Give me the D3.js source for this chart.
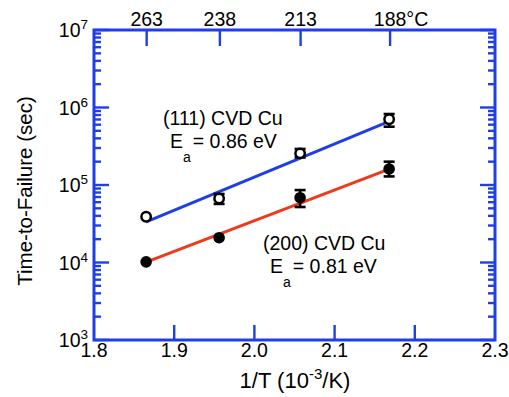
<!DOCTYPE html>
<html><head><meta charset="utf-8">
<script src="https://cdn.jsdelivr.net/npm/d3@7"></script>
<style>
body{margin:0;background:#fff;}
text{font-family:"Liberation Sans",Arial,Helvetica,sans-serif;fill:#000;}
</style></head>
<body><svg id="c" width="509" height="397"></svg>
<script>
// ---- data ----
const invT = [1.865, 1.956, 2.057, 2.168];          // 1/T (10^-3/K)
const ttf111 = [3.9e4, 6.7e4, 2.56e5, 7.05e5];       // (111) CVD Cu, sec
const err111Lo = [3.9e4, 5.7e4, 2.26e5, 5.65e5];
const err111Hi = [3.9e4, 7.66e4, 2.92e5, 8.24e5];
const ttf200 = [1.02e4, 2.09e4, 6.86e4, 1.61e5];     // (200) CVD Cu, sec
const err200Lo = [1.02e4, 2.09e4, 5.2e4, 1.29e5];
const err200Hi = [1.02e4, 2.09e4, 8.6e4, 2.0e5];
const fitX = [1.865, 2.168];
const fit111 = [3.35e4, 6.6e5];
const fit200 = [1.01e4, 1.6e5];
const xTicks = [1.8, 1.9, 2.0, 2.1, 2.2, 2.3];
const yExps = [3, 4, 5, 6, 7];
const tempTicks = [263, 238, 213, 188];             // °C

const W = 509, H = 397;
const m = {l: 94, t: 30, r: 14, b: 57};
const x = d3.scaleLinear().domain([1.8, 2.3]).range([m.l, W - m.r]);
const y = d3.scaleLog().domain([1e3, 1e7]).range([H - m.b, m.t]);
const BLUE = "#1f3ee6", RED = "#ec3a1c";

const svg = d3.select("#c");

// fit lines
const line = d3.line().x(d => x(d[0])).y(d => y(d[1]));
svg.append("path").datum(fitX.map((v, i) => [v, fit111[i]]))
  .attr("d", line).attr("fill", "none").attr("stroke", BLUE).attr("stroke-width", 3);
svg.append("path").datum(fitX.map((v, i) => [v, fit200[i]]))
  .attr("d", line).attr("fill", "none").attr("stroke", RED).attr("stroke-width", 3);

// error bars
function errBars(lo, hi) {
  const g = svg.append("g").attr("stroke", "#000").attr("stroke-width", 2.6);
  invT.forEach((v, i) => {
    if (hi[i] === lo[i]) return;
    const cx = x(v);
    g.append("line").attr("x1", cx).attr("x2", cx).attr("y1", y(lo[i])).attr("y2", y(hi[i]));
    [lo[i], hi[i]].forEach(e => g.append("line").attr("x1", cx - 5.5).attr("x2", cx + 5.5).attr("y1", y(e)).attr("y2", y(e)));
  });
}
errBars(err111Lo, err111Hi);
errBars(err200Lo, err200Hi);

// markers
svg.append("g").selectAll("circle").data(invT).join("circle")
  .attr("cx", d => x(d)).attr("cy", (d, i) => y(ttf111[i])).attr("r", 4.7)
  .attr("fill", "#fff").attr("stroke", "#000").attr("stroke-width", 2.5);
svg.append("g").selectAll("circle").data(invT).join("circle")
  .attr("cx", d => x(d)).attr("cy", (d, i) => y(ttf200[i])).attr("r", 5.8)
  .attr("fill", "#000");

// frame
svg.append("rect").attr("x", x(1.8)).attr("y", y(1e7))
  .attr("width", x(2.3) - x(1.8)).attr("height", y(1e3) - y(1e7))
  .attr("fill", "none").attr("stroke", BLUE).attr("stroke-width", 3);

// y ticks (left and right, inward)
const minor = [];
yExps.slice(0, -1).forEach(e => { for (let k = 2; k <= 9; k++) minor.push(k * Math.pow(10, e)); });
const tg = svg.append("g").attr("stroke", BLUE).attr("stroke-width", 2.4);
yExps.forEach(e => {
  const yy = y(Math.pow(10, e));
  tg.append("line").attr("x1", x(1.8)).attr("x2", x(1.8) + 15).attr("y1", yy).attr("y2", yy);
  tg.append("line").attr("x1", x(2.3)).attr("x2", x(2.3) - 15).attr("y1", yy).attr("y2", yy);
});
minor.forEach(v => {
  const yy = y(v);
  tg.append("line").attr("x1", x(1.8)).attr("x2", x(1.8) + 7).attr("y1", yy).attr("y2", yy);
  tg.append("line").attr("x1", x(2.3)).attr("x2", x(2.3) - 7).attr("y1", yy).attr("y2", yy);
});
// x ticks bottom
xTicks.slice(1, -1).forEach(v => {
  tg.append("line").attr("x1", x(v)).attr("x2", x(v)).attr("y1", y(1e3)).attr("y2", y(1e3) - 15);
});
// top temperature ticks
tempTicks.forEach(t => {
  const xx = x(1000 / (t + 273));
  tg.append("line").attr("x1", xx).attr("x2", xx).attr("y1", y(1e7)).attr("y2", y(1e7) + 16);
});

// labels
const fs = 19.5;
xTicks.forEach(v => {
  svg.append("text").attr("x", x(v)).attr("y", y(1e3) + 17).attr("text-anchor", "middle")
    .attr("font-size", fs).text(d3.format(".1f")(v));
});
yExps.forEach(e => {
  const t = svg.append("text").attr("x", 88).attr("y", y(Math.pow(10, e)) + 7)
    .attr("text-anchor", "end").attr("font-size", fs);
  t.append("tspan").text("10");
  t.append("tspan").attr("font-size", 13.5).attr("dy", -8).text(e);
});
tempTicks.forEach((t, i) => {
  const xx = x(1000 / (t + 273));
  const tx = svg.append("text").attr("x", xx).attr("y", 26).attr("text-anchor", "middle")
    .attr("font-size", fs).text(t);
  if (i === tempTicks.length - 1) {
    const w = tx.node().getComputedTextLength();
    svg.append("text").attr("x", xx + w / 2).attr("y", 26).attr("font-size", fs).text("°C");
  }
});

// axis titles
const xt = svg.append("text").attr("x", 295).attr("y", 388)
  .attr("text-anchor", "middle").attr("font-size", 22);
xt.append("tspan").text("1/T (10");
xt.append("tspan").attr("font-size", 15).attr("dy", -9).text("-3");
xt.append("tspan").attr("dy", 9).text("/K)");
svg.append("text").attr("transform", "translate(32," + ((y(1e3) + y(1e7)) / 2 + 6) + ") rotate(-90)")
  .attr("text-anchor", "middle").attr("font-size", 20.5).text("Time-to-Failure (sec)");

// annotations
function annot(x0, y0, title, ea) {
  svg.append("text").attr("x", x0).attr("y", y0).attr("font-size", fs).text(title);
  const t = svg.append("text").attr("x", x0 + 7).attr("y", y0 + 23).attr("font-size", fs);
  t.append("tspan").text("E");
  t.append("tspan").attr("font-size", 14).attr("dy", 14).text("a");
  t.append("tspan").attr("dy", -14).attr("dx", 2).text("= " + ea + " eV");
}
annot(163, 125, "(111) CVD Cu", "0.86");
annot(263, 250, "(200) CVD Cu", "0.81");
</script></body></html>
